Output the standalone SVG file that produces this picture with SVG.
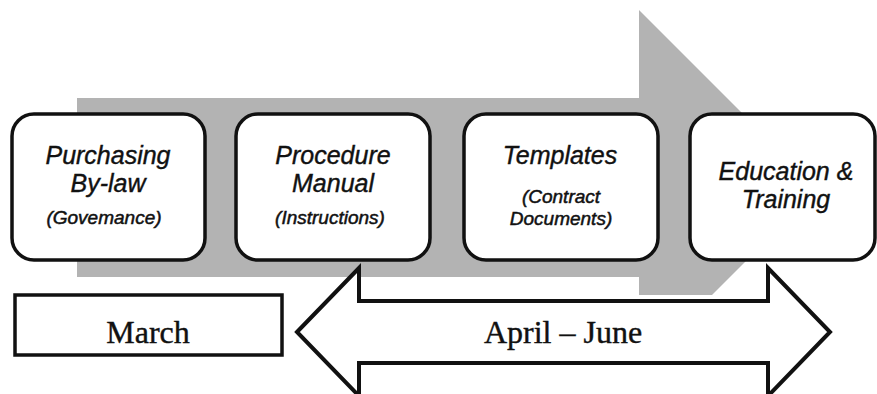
<svg xmlns="http://www.w3.org/2000/svg" width="877" height="394" viewBox="0 0 877 394">
  <style>
    .box { fill: #ffffff; stroke: #111111; stroke-width: 3.5; }
    .main { font-family: "Liberation Sans", Arial, sans-serif; font-style: italic; font-size: 25px; fill: #111111; stroke: #111111; stroke-width: 0.4; text-anchor: middle; }
    .sub { font-family: "Liberation Sans", Arial, sans-serif; font-style: italic; font-size: 19px; fill: #111111; stroke: #111111; stroke-width: 0.5; text-anchor: middle; }
    .serif { font-family: "Liberation Serif", "Times New Roman", serif; font-size: 32px; fill: #111111; stroke: #111111; stroke-width: 0.4; text-anchor: middle; }
    .outline { fill: #ffffff; stroke: #111111; stroke-width: 4; stroke-linejoin: miter; }
  </style>
  <rect width="877" height="394" fill="#ffffff"/>
  <g id="connectors">
    <polygon id="flow-arrow" points="77,98 639,98 639,10 818,189 712,295 639,295 639,277 77,277" fill="#b3b3b3"/>
  </g>
  <g id="purchasing-bylaw">
    <rect class="box" x="12" y="114" width="193" height="146" rx="22"/>
    <text class="main" x="108" y="164">Purchasing</text>
    <text class="main" x="108" y="192">By-law</text>
    <text class="sub" x="104" y="224">(Govemance)</text>
  </g>
  <g id="procedure-manual">
    <rect class="box" x="236" y="114" width="194" height="146" rx="22"/>
    <text class="main" x="333" y="164">Procedure</text>
    <text class="main" x="333" y="192">Manual</text>
    <text class="sub" x="330" y="224">(Instructions)</text>
  </g>
  <g id="templates">
    <rect class="box" x="464" y="114" width="194" height="146" rx="22"/>
    <text class="main" x="560" y="164">Templates</text>
    <text class="sub" x="561" y="203">(Contract</text>
    <text class="sub" x="561" y="225">Documents)</text>
  </g>
  <g id="education-training">
    <rect class="box" x="690" y="114" width="185" height="146" rx="22"/>
    <text class="main" x="786" y="180">Education &amp;</text>
    <text class="main" x="786" y="208">Training</text>
  </g>
  <g id="march">
    <rect class="box" x="15" y="295" width="267" height="60"/>
    <text class="serif" x="148" y="343">March</text>
  </g>
  <g id="april-june">
    <polygon class="outline" points="297,332 359,268 359,301 768,301 768,268 830,332 768,396 768,363 359,363 359,396"/>
    <text class="serif" x="563" y="343">April – June</text>
  </g>
</svg>
